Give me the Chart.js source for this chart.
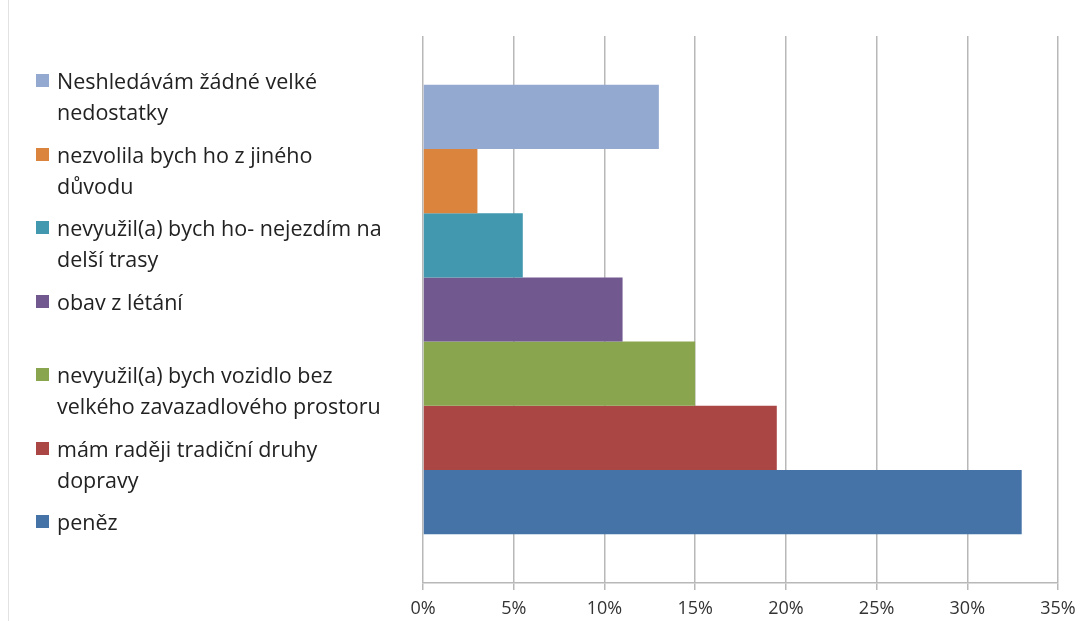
<!DOCTYPE html>
<html>
<head>
<meta charset="utf-8">
<script src="https://cdn.jsdelivr.net/npm/chart.js@4.4.1/dist/chart.umd.min.js"></script>
<style>
    html, body { margin: 0; padding: 0; background: #fff; }
    #wrap { position: relative; width: 1080px; height: 621px; overflow: hidden; }
    #wrap .edge { position: absolute; left: 8px; top: 0; bottom: 0; border-left: 1px solid #e2e2e2; }
    #myChart { position: absolute; left: 0; top: 0; }
    #legend { position: absolute; left: 0; top: 0; font-family: 'Open Sans', sans-serif; font-size: 21.5px; color: #222; }
    .legend-item { position: absolute; left: 36px; white-space: pre; line-height: 31px; }
    .legend-item .box { position: absolute; left: 0; top: 9px; width: 13px; height: 13px; }
    .legend-item .text { display: block; margin-left: 21px; }
</style>
</head>
<body>
<div id="wrap">
    <div class="edge"></div>
    <canvas id="myChart" width="1080" height="621"></canvas>
    <div id="legend"></div>
</div>
<script>
// answers, top bar first
var answers = [
    'Neshledávám žádné velké\nnedostatky',
    'nezvolila bych ho z jiného\ndůvodu',
    'nevyužil(a) bych ho- nejezdím na\ndelší trasy',
    'obav z létání',
    'nevyužil(a) bych vozidlo bez\nvelkého zavazadlového prostoru',
    'mám raději tradiční druhy\ndopravy',
    'peněz'
];
var shares = [13, 3, 5.5, 11, 15, 19.5, 33];
var colors = ['#93A9CF', '#DB843D', '#4198AF', '#71588F', '#89A54E', '#AA4643', '#4572A7'];
var axisMax = 35;
var axisStep = 5;

var chart = {
    init: function() {
        this.buildLegend();
        this.initChart();
    },
    buildLegend: function() {
        var legend = document.getElementById('legend');
        answers.forEach(function(text, i) {
            var item = document.createElement('div');
            item.className = 'legend-item';
            item.style.top = (65 + i * 73.5) + 'px';

            var box = document.createElement('span');
            box.className = 'box';
            box.style.background = colors[i];

            var label = document.createElement('span');
            label.className = 'text';
            label.textContent = text;

            item.appendChild(box);
            item.appendChild(label);
            legend.appendChild(item);
        });
    },
    initChart: function() {
        const data = {
            labels: [''],
            datasets: answers.map(function(text, i) {
                return {
                    label: text,
                    data: [shares[i]],
                    backgroundColor: colors[i],
                    categoryPercentage: 0.822,
                    barPercentage: 1
                };
            })
        };
        const config = {
            type: 'bar',
            data: data,
            options: {
                indexAxis: 'y',
                responsive: false,
                animation: false,
                layout: {
                    padding: { left: 423, right: 22, top: 36, bottom: 0 }
                },
                plugins: {
                    legend: { display: false },
                    tooltip: { enabled: false }
                },
                scales: {
                    x: {
                        min: 0,
                        max: axisMax,
                        afterFit: function(scale) {
                            // fixed axis height, and let the layout padding decide the edges
                            scale.height = 38;
                            scale.paddingLeft = 0;
                            scale.paddingRight = 0;
                        },
                        grid: {
                            color: '#b8b8b8',
                            lineWidth: 1.5,
                            tickLength: 7
                        },
                        border: { color: '#b8b8b8', width: 1.5 },
                        ticks: {
                            stepSize: axisStep,
                            padding: 8,
                            maxRotation: 0,
                            color: '#333',
                            font: { family: 'Open Sans', size: 18 },
                            callback: function(v) { return v + '%'; }
                        }
                    },
                    y: {
                        display: false
                    }
                }
            }
        };
        new Chart(document.getElementById('myChart'), config);
    }
};

chart.init();
</script>
</body>
</html>
